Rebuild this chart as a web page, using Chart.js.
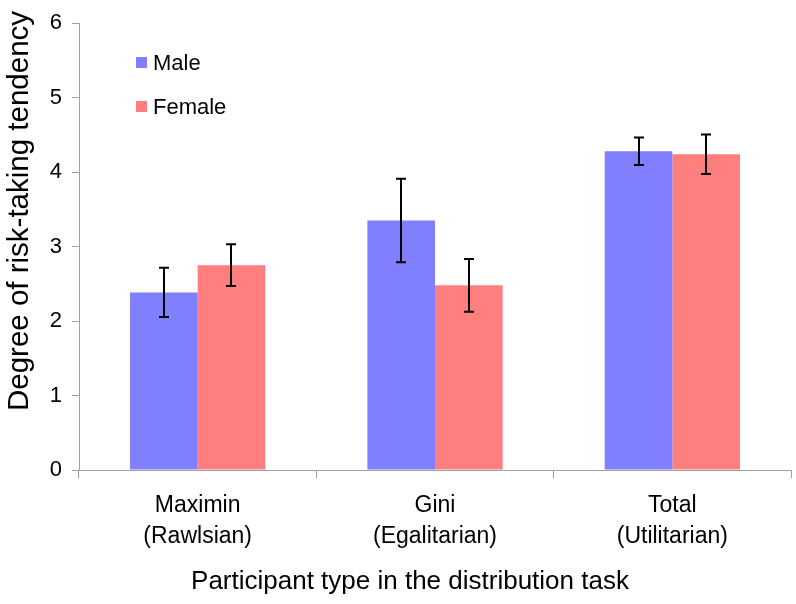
<!DOCTYPE html>
<html>
<head>
<meta charset="utf-8">
<title>Risk-taking tendency by participant type</title>
<script src="https://cdn.jsdelivr.net/npm/chart.js@4.4.1/dist/chart.umd.min.js"></script>
<style>
    html, body { margin: 0; padding: 0; background: #fff; }
    #wrap { position: relative; width: 796px; height: 604px; }
</style>
</head>
<body>
<div id="wrap"><canvas id="barChart"></canvas></div>
<script>
// dados
const categorias = [['Maximin', '(Rawlsian)'], ['Gini', '(Egalitarian)'], ['Total', '(Utilitarian)']];
const mediaMale = [2.385, 3.35, 4.28];
const mediaFemale = [2.75, 2.48, 4.24];
const erroMale = [0.33, 0.56, 0.185];
const erroFemale = [0.28, 0.355, 0.265];
const yTicks = [0, 1, 2, 3, 4, 5, 6];

const FONTE = "'Liberation Sans', Arial, Helvetica, sans-serif";
const COR_MALE = '#7f7fff';
const COR_FEMALE = '#ff7f7f';
const COR_EIXO = '#a0a0a0';

// desenha as barras de erro usando as escalas do gráfico
const errorBarsPlugin = {
    id: 'errorBars',
    afterDatasetsDraw(chart) {
        const ctx = chart.ctx;
        const y = chart.scales.y;
        const erros = [erroMale, erroFemale];
        ctx.save();
        ctx.strokeStyle = '#000';
        ctx.lineWidth = 2;
        chart.data.datasets.forEach((ds, i) => {
            const meta = chart.getDatasetMeta(i);
            meta.data.forEach((bar, j) => {
                const v = ds.data[j];
                const e = erros[i][j];
                const x = Math.round(bar.x);
                const yTop = y.getPixelForValue(v + e);
                const yBot = y.getPixelForValue(v - e);
                ctx.beginPath();
                ctx.moveTo(x, yTop);
                ctx.lineTo(x, yBot);
                ctx.moveTo(x - 5, yTop);
                ctx.lineTo(x + 5, yTop);
                ctx.moveTo(x - 5, yBot);
                ctx.lineTo(x + 5, yBot);
                ctx.stroke();
            });
        });
        ctx.restore();
    }
};

// legenda e títulos dos eixos
const textosPlugin = {
    id: 'textos',
    afterDraw(chart) {
        const ctx = chart.ctx;
        ctx.save();
        ctx.textBaseline = 'middle';
        ctx.textAlign = 'left';
        ctx.font = '22px ' + FONTE;
        chart.data.datasets.forEach((ds, i) => {
            const yy = 63 + i * 44;
            ctx.fillStyle = ds.backgroundColor;
            ctx.fillRect(136, yy - 6, 11, 11);
            ctx.fillStyle = '#000';
            ctx.fillText(ds.label, 153, yy + 1);
        });

        ctx.font = '26px ' + FONTE;
        ctx.textAlign = 'center';
        ctx.fillText('Participant type in the distribution task', 410, 582);

        // título do eixo y (um pouco acima do centro, como no original)
        ctx.font = '29.5px ' + FONTE;
        ctx.translate(20, 211);
        ctx.rotate(-Math.PI / 2);
        ctx.fillText('Degree of risk-taking tendency', 0, 0);
        ctx.restore();
    }
};

const ctx = document.getElementById('barChart');
new Chart(ctx, {
    type: 'bar',
    data: {
        labels: categorias,
        datasets: [{
            label: 'Male',
            data: mediaMale,
            backgroundColor: COR_MALE,
            borderWidth: 0
        }, {
            label: 'Female',
            data: mediaFemale,
            backgroundColor: COR_FEMALE,
            borderWidth: 0
        }]
    },
    options: {
        responsive: true,
        maintainAspectRatio: false,
        animation: false,
        layout: {
            padding: { top: 14, right: 5, left: 0, bottom: 0 }
        },
        datasets: {
            bar: {
                barPercentage: 1,
                categoryPercentage: 0.57
            }
        },
        plugins: {
            legend: { display: false },
            tooltip: { enabled: false }
        },
        scales: {
            x: {
                afterFit(scale) { scale.height = 134; },
                grid: {
                    offset: true,
                    drawOnChartArea: false,
                    color: COR_EIXO,
                    tickLength: 8
                },
                border: { color: COR_EIXO, width: 1 },
                ticks: {
                    color: '#000',
                    padding: 12,
                    maxRotation: 0,
                    font: { size: 23, family: FONTE, lineHeight: 1.35 }
                }
            },
            y: {
                min: 0,
                max: 6,
                afterFit(scale) { scale.width = 79; },
                afterBuildTicks(scale) {
                    scale.ticks = yTicks.map(v => ({ value: v }));
                },
                grid: {
                    drawOnChartArea: false,
                    color: COR_EIXO,
                    tickLength: 7
                },
                border: { color: COR_EIXO, width: 1 },
                ticks: {
                    color: '#000',
                    padding: 10,
                    font: { size: 22, family: FONTE }
                }
            }
        }
    },
    plugins: [errorBarsPlugin, textosPlugin]
});
</script>
</body>
</html>
